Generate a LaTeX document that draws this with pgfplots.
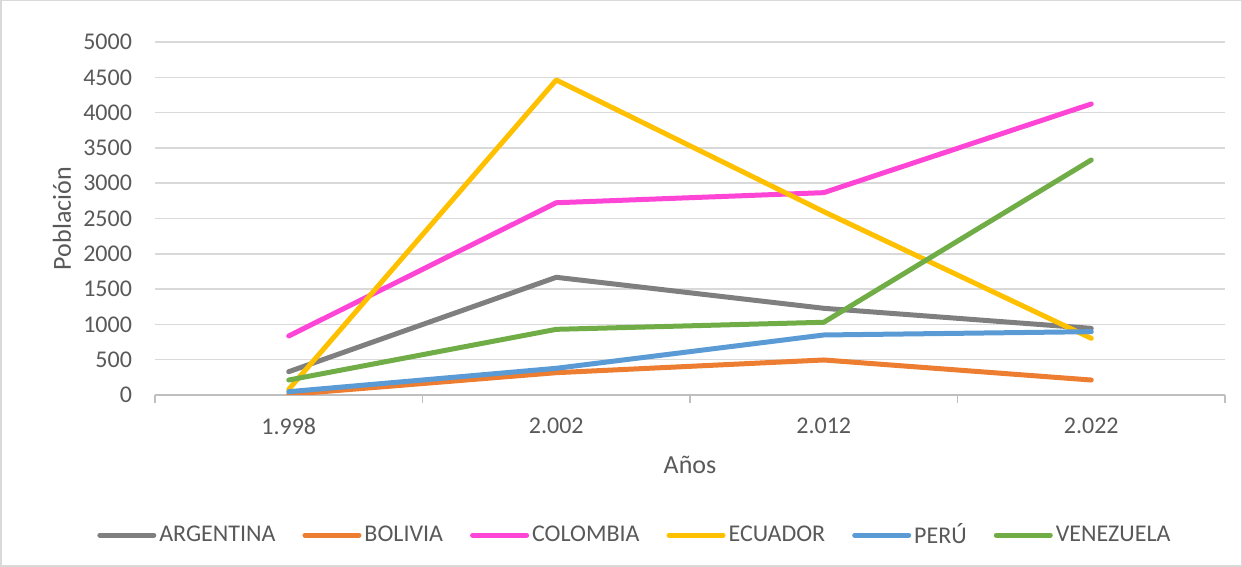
\documentclass[border=0pt]{standalone}
\usepackage{pgfplots}
\pgfplotsset{compat=1.18}
\usepackage{fontspec}
\setmainfont{Carlito}
\definecolor{txt}{HTML}{595959}
\definecolor{gridc}{HTML}{D9D9D9}
\definecolor{axc}{HTML}{BFBFBF}
\definecolor{carg}{HTML}{7F7F7F}
\definecolor{cbol}{HTML}{ED7D31}
\definecolor{ccol}{HTML}{FF45D5}
\definecolor{cecu}{HTML}{FFC000}
\definecolor{cper}{HTML}{5B9BD5}
\definecolor{cven}{HTML}{70AD47}
\begin{document}
\begin{tikzpicture}
\path[draw=gridc, line width=0.75pt] (0.375pt,0.375pt) rectangle (620.625pt,283.125pt);
\begin{axis}[
  at={(77.5pt,86pt)}, anchor=south west,
  scale only axis, width=535pt, height=176.5pt,
  xmin=-0.5, xmax=3.5, ymin=0, ymax=5000,
  xtick={0,1,2,3}, xticklabels={1.998,2.002,2.012,2.022},
  minor xtick={-0.5,0.5,1.5,2.5,3.5},
  ytick={0,500,...,5000},
  scaled y ticks=false,
  yticklabel style={/pgf/number format/.cd, fixed, 1000 sep={}},
  /pgf/number format/assume math mode=true,
  ymajorgrids, grid style={gridc, line width=0.75pt},
  separate axis lines,
  axis x line*=bottom, axis y line*=left,
  x axis line style={axc, line width=0.75pt, -},
  y axis line style={draw=none},
  ytick style={draw=none},
  major x tick style={draw=none},
  minor x tick style={axc, line width=0.75pt},
  tick align=outside,
  major tick length=0pt, minor tick length=4pt,
  xticklabel shift=8pt, yticklabel shift=8pt,
  tick label style={font=\fontsize{12}{14}\selectfont, text=txt},
  xlabel={Años}, ylabel={Población},
  every axis x label/.style={at={(axis description cs:0.5,-0.198)}, anchor=center, font=\fontsize{13}{15}\selectfont, text=txt},
  every axis y label/.style={at={(axis description cs:-0.0869,0.5)}, rotate=90, anchor=center, font=\fontsize{13}{15}\selectfont, text=txt},
  legend columns=6,
  legend style={at={(axis description cs:0.449,-0.397)}, anchor=center, draw=none, fill=none,
    font=\fontsize{12}{14}\selectfont, text=txt,
    /tikz/every even column/.append style={column sep=12pt},
    nodes={inner xsep=1.5pt}},
  legend image code/.code={\draw[#1, line width=2.5pt] (0pt,0pt) -- (27pt,0pt);},
  every axis plot/.append style={line width=2.5pt, line join=round, line cap=round, mark=none},
]
\addplot[carg] coordinates {(0,330) (1,1667) (2,1228) (3,944)};
\addlegendentry{ARGENTINA}
\addplot[cbol] coordinates {(0,8) (1,316) (2,496) (3,212)};
\addlegendentry{BOLIVIA}
\addplot[ccol] coordinates {(0,836) (1,2723) (2,2866) (3,4122)};
\addlegendentry{COLOMBIA}
\addplot[cecu] coordinates {(0,80) (1,4462) (2,2597) (3,803)};
\addlegendentry{ECUADOR}
\addplot[cper] coordinates {(0,47) (1,378) (2,850) (3,897)};
\addlegendentry{PERÚ}
\addplot[cven] coordinates {(0,212) (1,930) (2,1030) (3,3329)};
\addlegendentry{VENEZUELA}
\end{axis}
\end{tikzpicture}
\end{document}
